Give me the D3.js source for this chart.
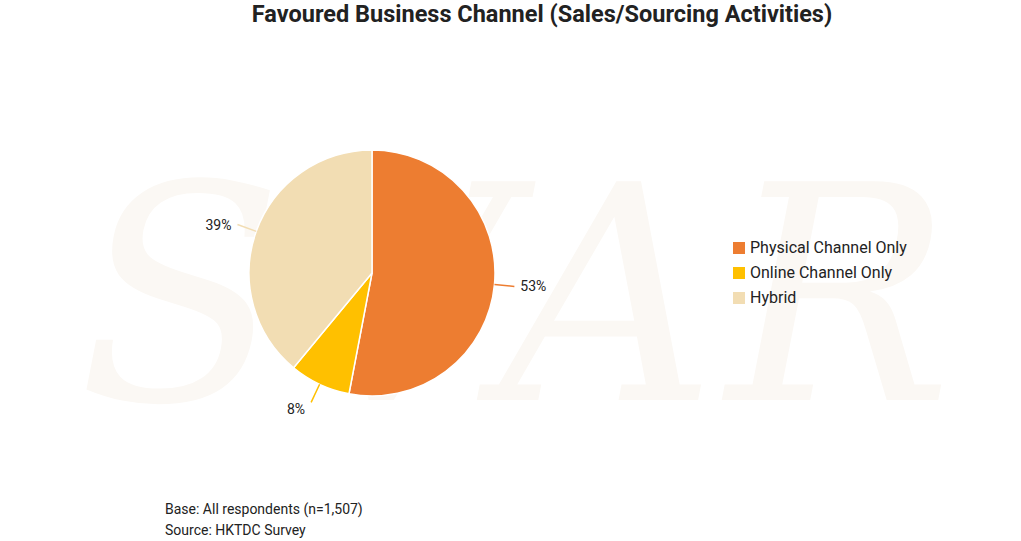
<!DOCTYPE html>
<html><head><meta charset="utf-8">
<script src="https://cdn.jsdelivr.net/npm/d3@7"></script>
<style>body{margin:0;background:#fff;font-family:Roboto,sans-serif}</style>
</head><body>
<svg id="chart" width="1021" height="541"></svg>
<script>
var categories = ["Physical Channel Only", "Online Channel Only", "Hybrid"];
var values = [53, 8, 39];
var colors = ["#ED7D31", "#FFC000", "#F2DDB3"];

var svg = d3.select("#chart");

// faint watermark
svg.append("text")
    .attr("x", 520).attr("y", 400)
    .attr("text-anchor", "middle")
    .style("font-family", "DejaVu Serif, serif")
    .style("font-style", "italic")
    .style("font-size", "300px")
    .style("letter-spacing", "10px")
    .attr("fill", "#fbf8f4")
    .text("SVAR");

svg.append("text")
    .attr("x", 542).attr("y", 22)
    .attr("text-anchor", "middle")
    .style("font-size", "23.5px").style("font-weight", "bold")
    .attr("fill", "#222")
    .text("Favoured Business Channel (Sales/Sourcing Activities)");

var cx = 372, cy = 273, r = 123;
var pie = d3.pie().sort(null).value(function (d) { return d; });
var arc = d3.arc().innerRadius(0).outerRadius(r);
var arcs = pie(values);

var g = svg.append("g").attr("transform", "translate(" + cx + "," + cy + ")");
g.selectAll("path").data(arcs).enter().append("path")
    .attr("d", arc)
    .attr("fill", function (d, i) { return colors[i]; })
    .attr("stroke", "#fff").attr("stroke-width", 1.5);

// leader lines and labels
arcs.forEach(function (d, i) {
    var a = (d.startAngle + d.endAngle) / 2;
    var p1 = [Math.sin(a) * r, -Math.cos(a) * r];
    var p2 = [Math.sin(a) * (r + 20), -Math.cos(a) * (r + 20)];
    var right = Math.sin(a) > 0;
    g.append("line")
        .attr("x1", p1[0]).attr("y1", p1[1]).attr("x2", p2[0]).attr("y2", p2[1])
        .attr("stroke", colors[i]).attr("stroke-width", 1.5);
    g.append("text")
        .attr("x", p2[0] + (right ? 6 : -6)).attr("y", p2[1] + (Math.cos(a) < -0.5 ? 12 : 5))
        .attr("text-anchor", right ? "start" : "end")
        .style("font-size", "14px").attr("fill", "#222")
        .text(values[i] + "%");
});

// legend
var legend = svg.append("g").attr("transform", "translate(733,242)");
categories.forEach(function (c, i) {
    legend.append("rect").attr("x", 0).attr("y", i * 25).attr("width", 12).attr("height", 12)
        .attr("fill", colors[i]);
    legend.append("text").attr("x", 17).attr("y", i * 25 + 11)
        .style("font-size", "16px").attr("fill", "#222").text(c);
});

svg.append("text").attr("x", 165).attr("y", 514).style("font-size", "14px").attr("fill", "#222")
    .text("Base: All respondents (n=1,507)");
svg.append("text").attr("x", 165).attr("y", 535).style("font-size", "14px").attr("fill", "#222")
    .text("Source: HKTDC Survey");
</script>
</body></html>
